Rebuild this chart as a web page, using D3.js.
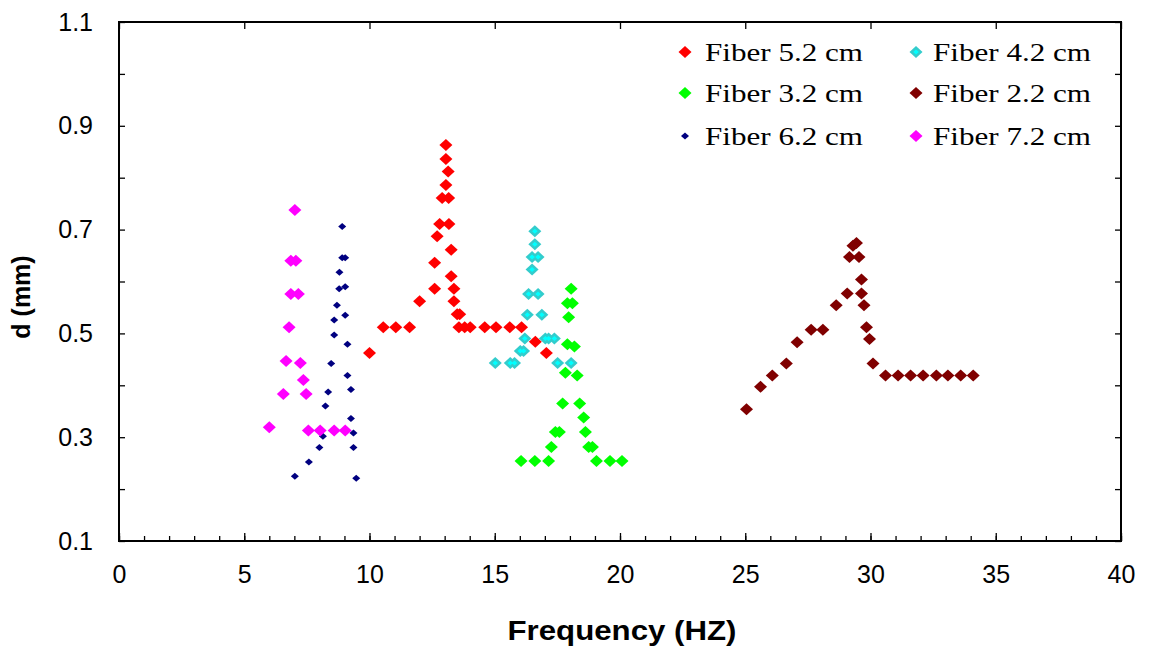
<!DOCTYPE html>
<html>
<head>
<meta charset="utf-8">
<script src="https://cdn.jsdelivr.net/npm/d3@7"></script>
<style>
  body { margin: 0; background: #fff; }
  svg { display: block; }
</style>
</head>
<body>
<svg id="chart" width="1149" height="646"></svg>
<script>
// Data: [frequency (Hz), d (mm)]
const fiber52 = [
  [10.0, 0.462], [10.55, 0.512], [11.05, 0.512], [11.6, 0.512], [12.0, 0.562],
  [12.6, 0.586], [12.6, 0.636], [12.7, 0.687], [12.8, 0.711], [13.17, 0.711],
  [12.9, 0.761], [13.16, 0.761], [13.05, 0.786], [13.14, 0.812], [13.05, 0.836],
  [13.05, 0.863], [13.26, 0.661], [13.26, 0.61], [13.37, 0.586], [13.37, 0.562],
  [13.5, 0.537], [13.6, 0.537], [13.57, 0.512], [13.8, 0.512], [14.02, 0.512],
  [14.6, 0.512], [15.05, 0.512], [15.6, 0.512], [16.07, 0.512], [16.62, 0.484],
  [17.06, 0.462]
];
const fiber42 = [
  [15.02, 0.443], [15.62, 0.443], [15.79, 0.443], [16.02, 0.466], [16.15, 0.466],
  [16.2, 0.49], [16.3, 0.536], [16.35, 0.576], [16.49, 0.623], [16.49, 0.647],
  [16.6, 0.672], [16.6, 0.697], [16.73, 0.647], [16.73, 0.576], [16.88, 0.536],
  [17.02, 0.49], [17.15, 0.49], [17.38, 0.49], [17.51, 0.443], [18.05, 0.443]
];
const fiber32 = [
  [16.05, 0.254], [16.6, 0.254], [17.15, 0.254], [17.26, 0.281], [17.42, 0.31],
  [17.58, 0.31], [17.71, 0.365], [17.82, 0.424], [17.9, 0.479], [17.95, 0.531],
  [17.9, 0.558], [18.1, 0.558], [18.05, 0.586], [18.18, 0.475], [18.29, 0.419],
  [18.39, 0.365], [18.55, 0.338], [18.62, 0.31], [18.75, 0.281], [18.9, 0.281],
  [19.06, 0.254], [19.6, 0.254], [20.08, 0.254]
];
const fiber22 = [
  [25.05, 0.354], [25.61, 0.397], [26.08, 0.419], [26.64, 0.442], [27.07, 0.483],
  [27.63, 0.507], [28.1, 0.507], [28.63, 0.554], [29.07, 0.577], [29.64, 0.577],
  [29.64, 0.604], [29.16, 0.647], [29.54, 0.647], [29.3, 0.669], [29.44, 0.674],
  [29.74, 0.554], [29.84, 0.512], [29.96, 0.489], [30.1, 0.442], [30.6, 0.419],
  [31.1, 0.419], [31.6, 0.419], [32.1, 0.419], [32.63, 0.419], [33.09, 0.419],
  [33.6, 0.419], [34.1, 0.419]
];
const fiber62 = [
  [8.91, 0.706], [8.91, 0.646], [9.03, 0.646], [8.8, 0.618], [8.79, 0.586],
  [9.03, 0.59], [8.7, 0.554], [8.59, 0.526], [9.03, 0.535], [8.59, 0.497],
  [9.12, 0.479], [8.47, 0.442], [9.12, 0.419], [8.35, 0.387], [9.26, 0.392],
  [8.24, 0.36], [9.26, 0.336], [8.14, 0.302], [9.36, 0.308], [8.0, 0.28],
  [9.36, 0.28], [7.58, 0.252], [7.02, 0.225], [9.47, 0.221]
];
const fiber72 = [
  [7.02, 0.738], [6.86, 0.64], [7.06, 0.64], [6.86, 0.576], [7.16, 0.576],
  [6.79, 0.512], [6.67, 0.447], [7.24, 0.443], [7.36, 0.41], [6.56, 0.383],
  [7.47, 0.383], [6.0, 0.319], [7.56, 0.313], [8.03, 0.313], [8.59, 0.313],
  [9.03, 0.313]
];

const xTicks = [0, 5, 10, 15, 20, 25, 30, 35, 40];
const yTicks = [0.1, 0.3, 0.5, 0.7, 0.9, 1.1];

const series = [
  { name: 'Fiber 5.2 cm', data: fiber52, fill: '#ff0000', w: 6.5, h: 6, col: 0, row: 0 },
  { name: 'Fiber 4.2 cm', data: fiber42, fill: '#33cccc', inner: '#00ffff', w: 6.5, h: 6, col: 1, row: 0 },
  { name: 'Fiber 3.2 cm', data: fiber32, fill: '#00ff00', w: 6.5, h: 6, col: 0, row: 1 },
  { name: 'Fiber 2.2 cm', data: fiber22, fill: '#800000', w: 6.5, h: 6, col: 1, row: 1 },
  { name: 'Fiber 6.2 cm', data: fiber62, fill: '#000080', w: 4, h: 3.5, col: 0, row: 2 },
  { name: 'Fiber 7.2 cm', data: fiber72, fill: '#ff00ff', w: 6.5, h: 6, col: 1, row: 2 }
];

const svg = d3.select('#chart');
const plotL = 119, plotR = 1121, plotT = 22, plotB = 541;

const x = d3.scaleLinear().domain([0, 40]).range([plotL, plotR]);
const y = d3.scaleLinear().domain([0.1, 1.1]).range([plotB, plotT]);

const diamond = (w, h) => `M0,${-h}L${w},0L0,${h}L${-w},0Z`;

// Frame
svg.append('rect')
  .attr('x', plotL).attr('y', plotT)
  .attr('width', plotR - plotL).attr('height', plotB - plotT)
  .attr('fill', 'none').attr('stroke', '#000').attr('stroke-width', 2);

// Bottom axis - minor ticks every 1, majors every 5 with labels
const minorX = d3.range(0, 41, 1);
const minorY = d3.range(0.1, 1.101, 0.1);

const gx = svg.append('g').attr('transform', `translate(0,${plotB})`)
  .call(d3.axisBottom(x).tickValues(minorX).tickSize(-5).tickFormat(''));
gx.select('.domain').remove();
const gxMaj = svg.append('g').attr('transform', `translate(0,${plotB})`)
  .call(d3.axisBottom(x).tickValues(xTicks).tickSize(-8).tickPadding(24).tickFormat(d3.format('d')));
gxMaj.select('.domain').remove();
gxMaj.selectAll('text')
  .style('font-family', '"Liberation Sans", Arial, sans-serif')
  .style('font-size', '25px')
  .attr('fill', '#000');

// Top axis - major ticks only
const gt = svg.append('g').attr('transform', `translate(0,${plotT})`)
  .call(d3.axisTop(x).tickValues(xTicks).tickSize(-7).tickFormat(''));
gt.select('.domain').remove();

// Left axis
const gy = svg.append('g').attr('transform', `translate(${plotL},0)`)
  .call(d3.axisLeft(y).tickValues(minorY).tickSize(-6).tickFormat(''));
gy.select('.domain').remove();
const gyLab = svg.append('g').attr('transform', `translate(${plotL},0)`)
  .call(d3.axisLeft(y).tickValues(yTicks).tickSize(0).tickPadding(26).tickFormat(d3.format('.1f')));
gyLab.select('.domain').remove();
gyLab.selectAll('text')
  .style('font-family', '"Liberation Sans", Arial, sans-serif')
  .style('font-size', '25px')
  .attr('fill', '#000');

// Right axis
const gr = svg.append('g').attr('transform', `translate(${plotR},0)`)
  .call(d3.axisRight(y).tickValues(minorY).tickSize(-6).tickFormat(''));
gr.select('.domain').remove();

svg.selectAll('.tick line').attr('stroke', '#000').attr('stroke-width', 1.3);

// Axis titles
svg.append('text')
  .attr('x', 622).attr('y', 640)
  .attr('text-anchor', 'middle')
  .attr('textLength', 229).attr('lengthAdjust', 'spacingAndGlyphs')
  .style('font-family', '"Liberation Sans", Arial, sans-serif')
  .style('font-size', '27px').style('font-weight', 'bold')
  .text('Frequency (HZ)');

svg.append('text')
  .attr('transform', 'translate(30,297) rotate(-90)')
  .attr('text-anchor', 'middle')
  .style('font-family', '"Liberation Sans", Arial, sans-serif')
  .style('font-size', '25px').style('font-weight', 'bold')
  .text('d (mm)');

// Points
series.forEach(s => {
  const g = svg.append('g');
  g.selectAll('path.outer')
    .data(s.data)
    .enter()
    .append('path')
    .attr('class', 'outer')
    .attr('d', diamond(s.w, s.h))
    .attr('transform', d => `translate(${x(d[0])},${y(d[1])})`)
    .attr('fill', s.fill);
  if (s.inner) {
    g.selectAll('path.inner')
      .data(s.data)
      .enter()
      .append('path')
      .attr('class', 'inner')
      .attr('d', diamond(2.8, 2.5))
      .attr('transform', d => `translate(${x(d[0])},${y(d[1])})`)
      .attr('fill', s.inner);
  }
});

// Legend
const legX = [685, 916], legY = [52, 93, 136];
const leg = svg.append('g')
  .selectAll('g')
  .data(series)
  .enter()
  .append('g')
  .attr('transform', d => `translate(${legX[d.col]},${legY[d.row]})`);

leg.append('path')
  .attr('d', d => diamond(d.w, d.h))
  .attr('fill', d => d.fill);
leg.filter(d => d.inner).append('path')
  .attr('d', diamond(2.8, 2.5))
  .attr('fill', d => d.inner);

leg.append('text')
  .attr('x', d => d.col === 0 ? 20 : 17)
  .attr('y', 9)
  .attr('textLength', 158).attr('lengthAdjust', 'spacingAndGlyphs')
  .style('font-family', '"Liberation Serif", "Times New Roman", serif')
  .style('font-size', '26px')
  .attr('fill', '#000')
  .text(d => d.name);
</script>
</body>
</html>
